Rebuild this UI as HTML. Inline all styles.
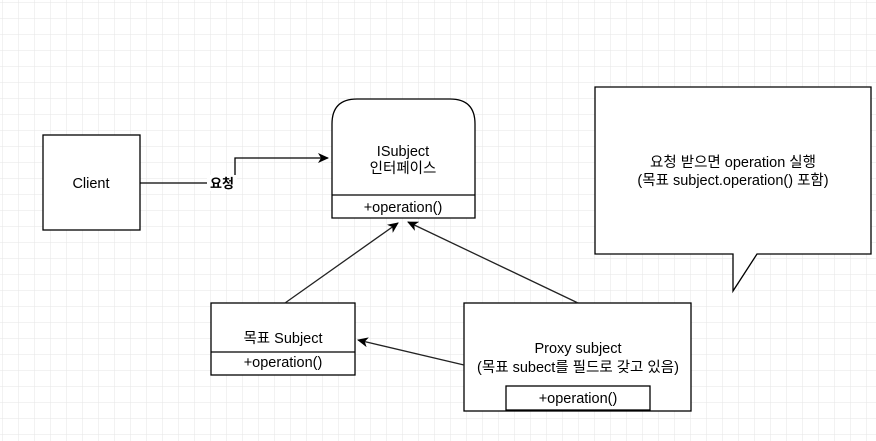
<!DOCTYPE html>
<html><head><meta charset="utf-8"><style>body{margin:0;background:#fff}svg{display:block}</style></head><body>
<svg width="876" height="441" xmlns="http://www.w3.org/2000/svg" font-family="Liberation Sans, Noto Sans CJK KR, sans-serif" font-size="14.5">
<defs>
<pattern id="g" width="16" height="16" patternUnits="userSpaceOnUse" x="3" y="3"><path d="M16 0V16H0" fill="none" stroke="#e6e6e6" stroke-width="1"/></pattern>
<marker id="a" markerWidth="12" markerHeight="10" refX="10" refY="5" orient="auto" markerUnits="userSpaceOnUse"><path d="M0,0 L11,5 L0,10 L3,5 Z" fill="#000"/></marker>
</defs>
<rect width="876" height="441" fill="url(#g)"/>
<g stroke="#000" stroke-width="1.3" fill="#fff">
<rect x="43" y="135" width="97" height="95"/>
<path d="M332,218 V124 Q332,99 357,99 H450 Q475,99 475,124 V218 Z"/>
<line x1="332" y1="195" x2="475" y2="195"/>
<rect x="211" y="303" width="144" height="72"/>
<line x1="211" y1="352" x2="355" y2="352"/>
<rect x="464" y="303" width="227" height="108"/>
<rect x="506" y="386" width="144" height="24"/>
<path d="M595,87 H871 V254 H757 L733,291 V254 H595 Z"/>
</g>
<g stroke="#000" stroke-width="1.3" fill="none">
<path d="M140,183 H235 V158 H328" marker-end="url(#a)"/>
<line x1="285" y1="303" x2="398" y2="223" marker-end="url(#a)" stroke="#222"/>
<line x1="578" y1="303" x2="408" y2="222" marker-end="url(#a)" stroke="#222"/>
<line x1="464" y1="365" x2="358" y2="340" marker-end="url(#a)" stroke="#222"/>
</g>
<rect x="207" y="175" width="30" height="16" fill="#fff"/>
<g text-anchor="middle" fill="#000">
<text x="222" y="188" font-weight="bold" font-size="13">요청</text>
<text x="91" y="188">Client</text>
<text x="403" y="156">ISubject</text>
<text x="403" y="173">인터페이스</text>
<text x="403" y="212">+operation()</text>
<text x="283" y="343">목표 Subject</text>
<text x="283" y="367">+operation()</text>
<text x="578" y="353">Proxy subject</text>
<text x="578" y="372">(목표 subect를 필드로 갖고 있음)</text>
<text x="578" y="403">+operation()</text>
<text x="733" y="167">요청 받으면 operation 실행</text>
<text x="733" y="185">(목표 subject.operation() 포함)</text>
</g>
</svg>
</body></html>
